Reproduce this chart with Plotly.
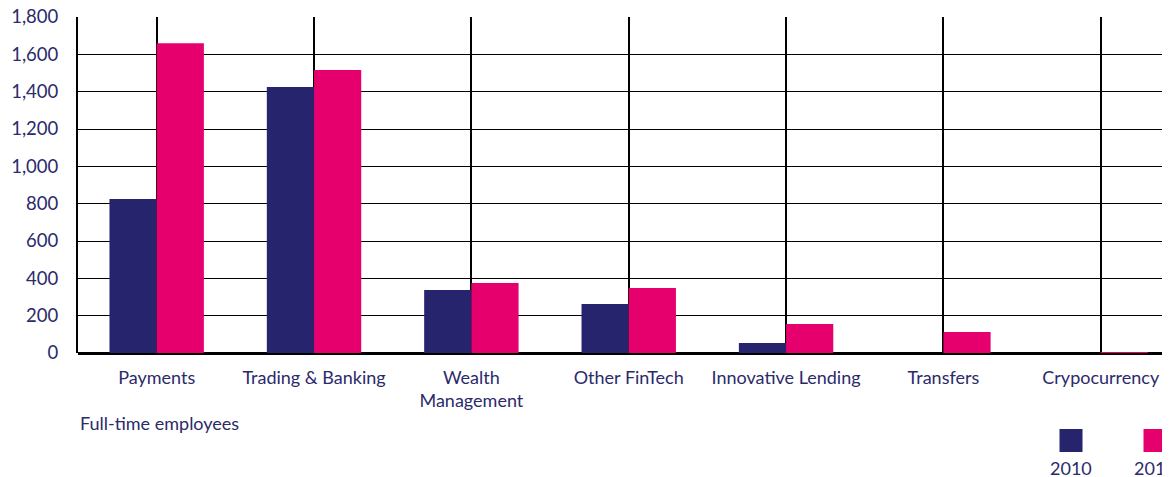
import plotly.graph_objects as go

categories = ["Payments", "Trading & Banking", "Wealth<br>Management", "Other FinTech",
              "Innovative Lending", "Transfers", "Crypocurrency"]
series_names = ["2010", "2013"]
values_2010 = [825, 1425, 337, 262, 54, 0, 0]
values_2013 = [1660, 1516, 375, 348, 155, 112, 3]
colors = ["#26246c", "#e6006e"]
y_ticks = [0, 200, 400, 600, 800, 1000, 1200, 1400, 1600, 1800]

FONT = "Lato"
TXT = "#2b2a6b"

fig = go.Figure()
for name, vals, col in zip(series_names, [values_2010, values_2013], colors):
    fig.add_trace(go.Bar(x=categories, y=vals, name=name, marker_color=col,
                         marker_line_width=0, showlegend=False))

fig.update_layout(
    width=1170, height=477,
    margin=dict(l=70, r=8, t=9, b=132, autoexpand=False),
    paper_bgcolor="white", plot_bgcolor="white",
    barmode="group", bargap=0.4, bargroupgap=0,
    font=dict(family=FONT, color=TXT, size=18),
)
fig.update_xaxes(
    range=[-0.5, 6.44], showgrid=True, gridcolor="black", gridwidth=1.5,
    showline=False, ticks="", tickfont=dict(size=18, color=TXT),
    ticklabelstandoff=12, ticklabeloverflow="allow", automargin=False,
)
fig.update_yaxes(
    range=[0, 1800], tickvals=y_ticks, tickformat=",", showgrid=True,
    gridcolor="black", gridwidth=1.3, showline=True, linecolor="black", linewidth=2,
    zeroline=True, zerolinecolor="black", zerolinewidth=3,
    tickfont=dict(size=18.5, color=TXT), ticklabelstandoff=14,
    ticklabeloverflow="allow", automargin=False,
)

fig.add_annotation(text="Full-time employees", xref="paper", yref="paper",
                   x=0, y=(353 - 423) / 336, xanchor="left", yanchor="middle", showarrow=False,
                   font=dict(size=18, color=TXT))

# custom legend: square with label beneath
leg_x = [1071, 1155]
for name, col, cx in zip(series_names, colors, leg_x):
    fig.add_shape(type="rect", xref="paper", yref="paper",
                  x0=(cx - 11.5 - 78) / 1092, x1=(cx + 11.5 - 78) / 1092,
                  y0=(353 - 452) / 336, y1=(353 - 429) / 336,
                  fillcolor=col, line_width=0)
    fig.add_annotation(text=name, xref="paper", yref="paper",
                       x=(cx - 78) / 1092, y=(353 - 468) / 336,
                       xanchor="center", yanchor="middle", showarrow=False,
                       font=dict(size=18, color=TXT))

fig.write_html("out.html")
